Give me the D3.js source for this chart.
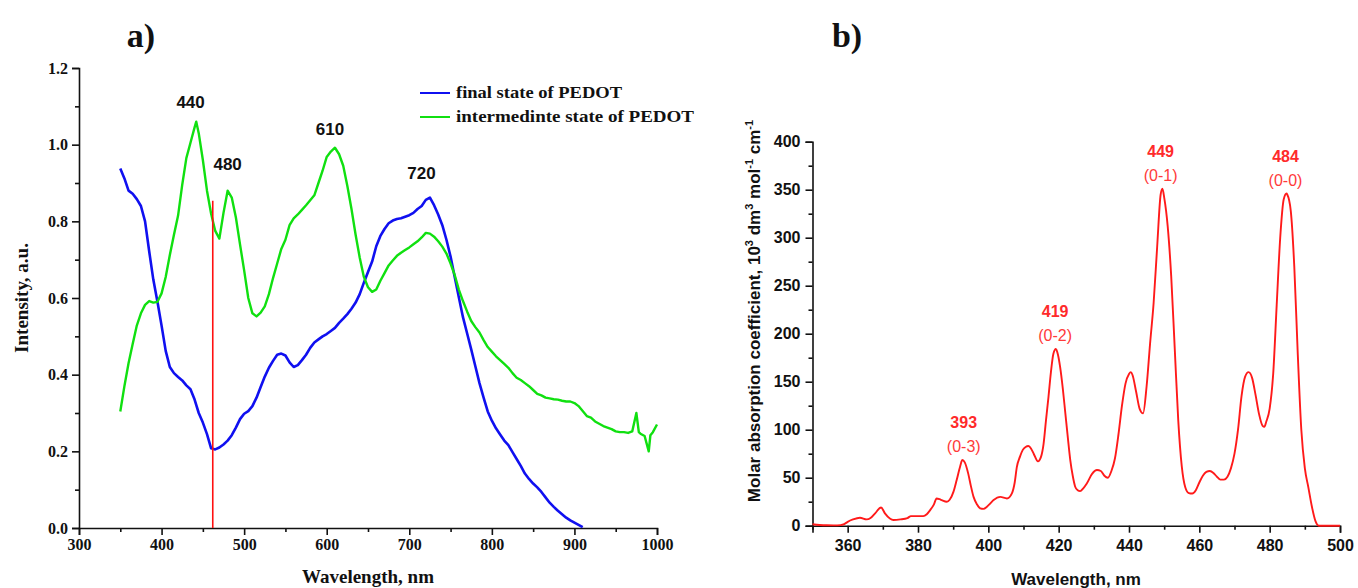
<!DOCTYPE html>
<html>
<head>
<meta charset="utf-8">
<script src="https://cdn.jsdelivr.net/npm/d3@7"></script>
<style>
  html, body { margin: 0; padding: 0; background: #fff; }
  svg { display: block; }
</style>
</head>
<body>
<svg id="fig" width="1358" height="588"></svg>
<script>
// ---------- Panel a: PEDOT spectra ----------
const wlFinal = [350,355,360,365,370,375,380,385,390,395,400,405,410,415,420,425,430,435,440,445,450,455,460,465,470,475,480,485,490,495,500,505,510,515,520,525,530,535,540,545,550,555,560,565,570,575,580,585,590,595,600,605,610,615,620,625,630,635,640,645,650,655,660,665,670,675,680,685,690,695,700,705,710,715,720,725,730,735,740,745,750,755,760,765,770,775,780,785,790,795,800,805,810,815,820,825,830,835,840,845,850,855,860,865,870,875,880,885,890,895,900,905,910];
const intFinal = [0.938,0.912,0.880,0.872,0.858,0.840,0.800,0.722,0.648,0.590,0.528,0.462,0.420,0.404,0.394,0.385,0.372,0.362,0.335,0.300,0.275,0.245,0.208,0.205,0.210,0.218,0.228,0.242,0.262,0.284,0.298,0.305,0.318,0.340,0.368,0.395,0.418,0.436,0.452,0.455,0.450,0.432,0.420,0.425,0.438,0.452,0.470,0.484,0.492,0.500,0.506,0.514,0.522,0.535,0.546,0.558,0.572,0.588,0.610,0.640,0.668,0.695,0.735,0.762,0.780,0.795,0.802,0.806,0.808,0.812,0.816,0.822,0.832,0.840,0.856,0.862,0.842,0.818,0.790,0.752,0.708,0.655,0.602,0.550,0.508,0.466,0.422,0.378,0.340,0.304,0.280,0.260,0.244,0.228,0.216,0.198,0.180,0.162,0.142,0.128,0.116,0.106,0.094,0.080,0.066,0.055,0.045,0.036,0.027,0.020,0.014,0.008,0.002];

const wlInter = [350,355,360,365,370,375,380,385,390,395,400,405,410,415,420,425,430,435,440,442,445,450,455,460,465,470,475,480,485,490,495,500,505,510,515,520,525,530,535,540,545,550,555,560,565,570,575,580,585,590,595,600,605,610,615,620,625,630,635,640,645,650,655,660,665,670,675,680,685,690,695,700,705,710,715,720,725,730,735,740,745,750,755,760,765,770,775,780,785,790,795,800,805,810,815,820,825,830,835,840,845,850,855,860,865,870,875,880,885,890,895,900,905,910,915,920,925,930,935,940,945,950,955,960,965,970,975,978,980,985,990,992,995,1000];
const intInter = [0.304,0.370,0.430,0.480,0.528,0.560,0.582,0.592,0.588,0.590,0.612,0.655,0.712,0.765,0.815,0.895,0.965,1.005,1.045,1.060,1.030,0.960,0.880,0.820,0.775,0.755,0.822,0.880,0.862,0.810,0.740,0.672,0.600,0.560,0.552,0.562,0.578,0.610,0.652,0.690,0.728,0.752,0.790,0.808,0.818,0.830,0.842,0.855,0.868,0.900,0.932,0.968,0.982,0.992,0.975,0.945,0.892,0.832,0.765,0.705,0.655,0.628,0.616,0.622,0.645,0.665,0.685,0.698,0.710,0.718,0.725,0.732,0.740,0.748,0.758,0.770,0.768,0.760,0.748,0.734,0.716,0.690,0.660,0.622,0.592,0.565,0.540,0.524,0.510,0.490,0.472,0.460,0.448,0.438,0.428,0.418,0.404,0.392,0.386,0.378,0.370,0.360,0.350,0.346,0.340,0.338,0.336,0.335,0.332,0.330,0.330,0.326,0.318,0.305,0.292,0.288,0.278,0.272,0.266,0.262,0.258,0.252,0.250,0.250,0.248,0.252,0.300,0.250,0.246,0.240,0.200,0.242,0.250,0.270];

const peaksA = [
  { label: "440", wl: 440, v: 1.06 },
  { label: "480", wl: 480, v: 0.88 },
  { label: "610", wl: 610, v: 0.99 },
  { label: "720", wl: 722, v: 0.862 }
];
const markerWl = 462;
const markerTop = 0.854;
const seriesNamesA = ["final state of PEDOT", "intermedinte state of PEDOT"];
const seriesColorsA = ["#1010f0", "#10e010"];

// ---------- Panel b: absorption spectrum ----------
const wlAbs = [350,352,354,356,358,359,360,361.5,363.5,365.4,366.5,367.8,369.5,370.6,372,373,375,377,378,380,381.5,382.5,383.4,384.5,385.3,386.5,388.2,389,390.1,391,392,392.6,393.3,394.3,395,395.8,396.8,397.7,398.6,399.6,400.5,401.5,403.4,405.3,406.7,407.5,408.1,409,409.8,410.6,411.4,412.2,412.9,414.1,415,415.7,416.4,417.1,417.8,418.5,419.2,419.8,420.4,421.2,421.9,422.6,423.3,424,424.7,425.4,426.1,427,428,429.5,430.9,432,433,434,435,436,437,438,439,440,440.5,441,442,443,444,445,446,447,448,449,449.5,450,451,452,453,454,455,456,457,458,459,460,461,462,463,464,465,466,467,468,469,470,471,472,473,474,475,476,477,478,478.5,479,480,481,482,483,484,484.8,485,486,487,488,489,490,491,492,493,494,497,500];
const epsAbs = [1.5,0.8,0.4,0.3,0.6,1.6,4,6.5,8.3,6.6,8,12.9,19,12.9,7.5,6,6.6,8,10,10,10,12,16,22,28.4,27,25,27,35.5,47.6,62,68.4,66,54,42,30,22,18,17.5,19.7,23,26.7,30,28.4,33.7,45,61,72,79,82,83,80,75,67,72,85,110,134,160,179,184,178,165.6,142,117,92,68.4,52,40.6,37,36,39,44,54,58,57,52,50,57,70,95,125,148,158,160,157,140,122,117,145,190,232,290,345,351,342,312,260,185,110,62,40,34,33.5,37,45,52,56,57,55,51,48,48,51,60,75,100,135,155,160,154,136,116,104,103,108,122,158,230,300,340,346,345,328,270,178,100,60,40,20,5,0,0,0];

const peaksB = [
  { wl: 393, v: 68.4, num: "393", band: "(0-3)" },
  { wl: 419, v: 184, num: "419", band: "(0-2)" },
  { wl: 449, v: 351, num: "449", band: "(0-1)" },
  { wl: 484.5, v: 346, num: "484", band: "(0-0)" }
];

const svg = d3.select("#fig");
const serif = "'Liberation Serif', 'Times New Roman', serif";
const sans = "'Liberation Sans', Arial, sans-serif";

// ===== Panel a =====
const xa = d3.scaleLinear().domain([300, 1000]).range([79, 657]);
const ya = d3.scaleLinear().domain([0, 1.2]).range([528, 68]);

const gA = svg.append("g");

// minor ticks
gA.append("g").attr("transform", "translate(0,528)")
  .call(d3.axisBottom(xa).tickValues(d3.range(350, 1000, 100)).tickSize(4).tickFormat(""))
  .call(g => g.select(".domain").remove());
gA.append("g").attr("transform", "translate(79,0)")
  .call(d3.axisLeft(ya).tickValues(d3.range(0.1, 1.2, 0.2)).tickSize(4).tickFormat(""))
  .call(g => g.select(".domain").remove());

gA.append("g").attr("transform", "translate(0,528)")
  .call(d3.axisBottom(xa).tickValues(d3.range(300, 1001, 100)).tickSize(7).tickPadding(4).tickFormat(d3.format("d")));
gA.append("g").attr("transform", "translate(79,0)")
  .call(d3.axisLeft(ya).tickValues(d3.range(0, 1.21, 0.2)).tickSize(7).tickPadding(4).tickFormat(d3.format(".1f")));
gA.selectAll(".tick text").attr("font-family", serif).attr("font-weight", "bold").attr("font-size", 16).attr("fill", "#111");
gA.selectAll(".domain, .tick line").attr("stroke", "#111").attr("stroke-width", 1.6);

// curves
const lineA = (wl, v) => d3.line().x((d, i) => xa(wl[i])).y(d => ya(d))(v);
gA.append("path").attr("d", lineA(wlFinal, intFinal))
  .attr("fill", "none").attr("stroke", seriesColorsA[0]).attr("stroke-width", 2.6).attr("stroke-linejoin", "round");
gA.append("path").attr("d", lineA(wlInter, intInter))
  .attr("fill", "none").attr("stroke", seriesColorsA[1]).attr("stroke-width", 2.4).attr("stroke-linejoin", "round");

// marker line
gA.append("line").attr("x1", xa(markerWl)).attr("x2", xa(markerWl))
  .attr("y1", ya(0)).attr("y2", ya(markerTop)).attr("stroke", "#ff1010").attr("stroke-width", 1.6);

// peak labels
const peakOffsets = { "440": [-4, -14], "480": [0, -21], "610": [-5, -14], "720": [-6, -19] };
gA.selectAll("text.peakA").data(peaksA).join("text")
  .attr("x", d => xa(d.wl) + peakOffsets[d.label][0])
  .attr("y", d => ya(d.v) + peakOffsets[d.label][1])
  .attr("text-anchor", "middle").attr("font-family", sans).attr("font-weight", "bold")
  .attr("font-size", 17).attr("fill", "#111").text(d => d.label);

// legend
const legA = gA.append("g");
seriesNamesA.forEach((name, i) => {
  const y = 93 + i * 24;
  legA.append("line").attr("x1", 420).attr("x2", 450).attr("y1", y).attr("y2", y)
    .attr("stroke", seriesColorsA[i]).attr("stroke-width", 2);
  legA.append("text").attr("x", 456).attr("y", y + 5)
    .attr("font-family", serif).attr("font-weight", "bold").attr("font-size", 16)
    .attr("textLength", i === 0 ? 166 : 238).attr("lengthAdjust", "spacingAndGlyphs")
    .attr("fill", "#111").text(name);
});

// titles
gA.append("text").attr("x", 368).attr("y", 583).attr("text-anchor", "middle")
  .attr("font-family", serif).attr("font-weight", "bold").attr("font-size", 19).attr("fill", "#111")
  .text("Wavelength, nm");
gA.append("text").attr("transform", "translate(28,298) rotate(-90)").attr("text-anchor", "middle")
  .attr("font-family", serif).attr("font-weight", "bold").attr("font-size", 19).attr("fill", "#111")
  .text("Intensity, a.u.");
gA.append("text").attr("x", 141).attr("y", 47).attr("text-anchor", "middle")
  .attr("font-family", serif).attr("font-weight", "bold").attr("font-size", 34).attr("fill", "#111")
  .text("a)");

// ===== Panel b =====
const xb = d3.scaleLinear().domain([350, 500]).range([812.5, 1340]);
const yb = d3.scaleLinear().domain([0, 400]).range([525.7, 141.7]);

const gB = svg.append("g");
gB.append("g").attr("transform", "translate(0,525.7)")
  .call(d3.axisBottom(xb).tickValues(d3.range(350, 500, 20)).tickSize(4).tickFormat(""))
  .call(g => g.select(".domain").remove());
gB.append("g").attr("transform", "translate(812.5,0)")
  .call(d3.axisLeft(yb).tickValues(d3.range(25, 400, 50)).tickSize(4).tickFormat(""))
  .call(g => g.select(".domain").remove());
gB.append("g").attr("transform", "translate(0,525.7)")
  .call(d3.axisBottom(xb).tickValues(d3.range(360, 501, 20)).tickSize(7).tickPadding(7).tickFormat(d3.format("d")));
gB.append("g").attr("transform", "translate(812.5,0)")
  .call(d3.axisLeft(yb).tickValues(d3.range(0, 401, 50)).tickSize(7).tickPadding(5).tickFormat(d3.format("d")));
gB.selectAll(".tick text").attr("font-family", sans).attr("font-weight", "bold").attr("font-size", 16).attr("fill", "#111");
gB.selectAll(".domain, .tick line").attr("stroke", "#111").attr("stroke-width", 1.6);

gB.append("path")
  .attr("d", d3.line().x((d, i) => xb(wlAbs[i])).y(d => yb(d)).curve(d3.curveMonotoneX)(epsAbs))
  .attr("fill", "none").attr("stroke", "#ff1a1a").attr("stroke-width", 1.9);

const lblB = gB.selectAll("g.peakB").data(peaksB).join("g")
  .attr("transform", d => `translate(${xb(d.wl)},${yb(d.v)})`);
lblB.append("text").attr("y", -32).attr("text-anchor", "middle")
  .attr("font-family", sans).attr("font-weight", "bold").attr("font-size", 16).attr("fill", "#ff2a2a")
  .text(d => d.num);
lblB.append("text").attr("y", -8).attr("text-anchor", "middle")
  .attr("font-family", sans).attr("font-size", 16).attr("fill", "#ff3a3a")
  .text(d => d.band);

gB.append("text").attr("x", 1076).attr("y", 585).attr("text-anchor", "middle")
  .attr("font-family", sans).attr("font-weight", "bold").attr("font-size", 17).attr("fill", "#111")
  .text("Wavelength, nm");

const yTitle = gB.append("text").attr("transform", "translate(760,311) rotate(-90)").attr("text-anchor", "middle")
  .attr("font-family", sans).attr("font-weight", "bold").attr("font-size", 17).attr("fill", "#111");
yTitle.append("tspan").text("Molar absorption coefficient, 10");
yTitle.append("tspan").attr("dy", -7).attr("font-size", 11).text("3");
yTitle.append("tspan").attr("dy", 7).text(" dm");
yTitle.append("tspan").attr("dy", -7).attr("font-size", 11).text("3");
yTitle.append("tspan").attr("dy", 7).text(" mol");
yTitle.append("tspan").attr("dy", -7).attr("font-size", 11).text("-1");
yTitle.append("tspan").attr("dy", 7).text(" cm");
yTitle.append("tspan").attr("dy", -7).attr("font-size", 11).text("-1");

gB.append("text").attr("x", 847).attr("y", 47).attr("text-anchor", "middle")
  .attr("font-family", serif).attr("font-weight", "bold").attr("font-size", 34).attr("fill", "#111")
  .text("b)");
</script>
</body>
</html>
